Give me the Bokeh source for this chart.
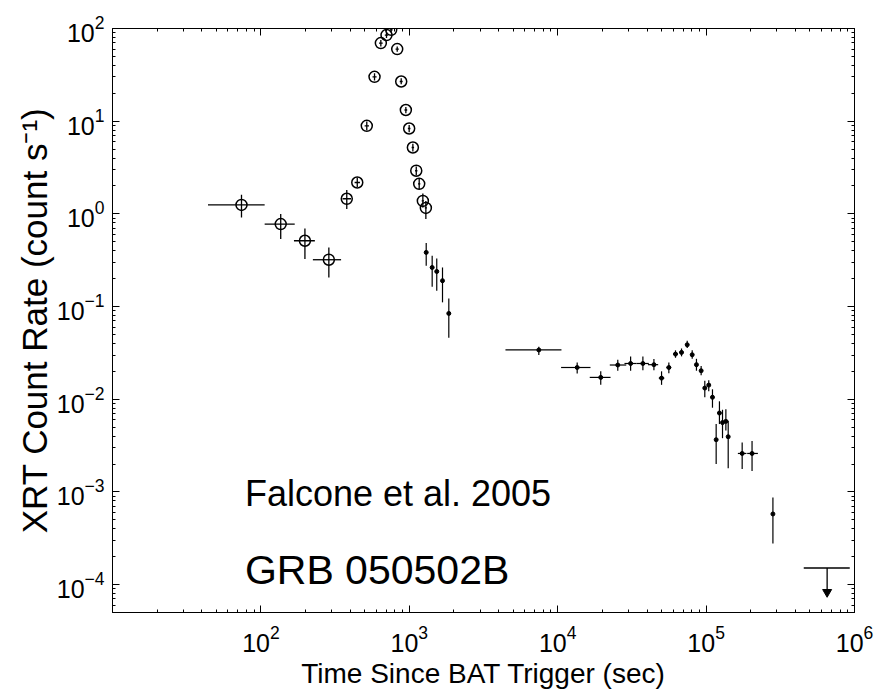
import numpy as np
from bokeh.plotting import figure
from bokeh.models import LogAxis, FixedTicker, Label, ColumnDataSource, CustomJSTickFormatter
from bokeh.embed import file_html
from bokeh.resources import INLINE

# ---------------- data ----------------
# Early data shown as open circles
circ_t = [74, 136, 198, 287, 379, 446, 517, 583, 643, 702, 755, 829, 882, 948,
          998, 1057, 1114, 1166, 1234, 1293]
circ_rate = [1.25, 0.776, 0.513, 0.32, 1.455, 2.18, 8.9, 30.1, 69.6, 84.9, 96.8,
             60.0, 26.8, 13.2, 8.34, 5.2, 2.92, 2.11, 1.38, 1.16]
circ_t_lo = [44, 106, 167, 224, 355, 428, 500, 565, 625, 684, 738, 808, 862, 928,
             978, 1037, 1094, 1145, 1212, 1272]
circ_t_hi = [106, 169, 231, 347, 405, 465, 535, 602, 662, 720, 773, 850, 902, 968,
             1018, 1077, 1134, 1187, 1256, 1314]
circ_rate_lo = [0.914, 0.535, 0.325, 0.206, 1.13, 1.95, 8.0, 27.5, 64.0, 79.0, 91.0,
                56.0, 25.0, 12.2, 7.6, 4.7, 2.6, 1.85, 1.17, 0.88]
circ_rate_hi = [1.61, 0.995, 0.697, 0.434, 1.81, 2.45, 9.9, 33.0, 75.0, 91.0, 103.0,
                64.0, 29.0, 14.2, 9.1, 5.7, 3.25, 2.4, 1.66, 1.38]

# Later data shown as small dots
dot_t = [1300, 1426, 1531, 1674, 1846, 7460, 13530, 19500, 25400, 31000, 37500,
         44500, 50100, 56100, 62200, 68300, 74600, 80600, 86100, 92600, 98000,
         104200, 110400, 116900, 123000, 129000, 135900, 140900, 175000, 204000,
         282000]
dot_rate = [0.384, 0.264, 0.239, 0.19, 0.0843, 0.034, 0.0220, 0.0172, 0.0234,
            0.0243, 0.0243, 0.0236, 0.0169, 0.0220, 0.0307, 0.032, 0.0387, 0.0302,
            0.0236, 0.0203, 0.0132, 0.0142, 0.0105, 0.00366, 0.0071, 0.0056,
            0.00577, 0.00394, 0.0026, 0.0026, 0.000578]
dot_t_lo = [1280, 1400, 1505, 1640, 1800, 4446, 10540, 16440, 22440, 28180, 33960,
            40550, 48000, 54000, 60000, 66000, 72500, 78500, 84000, 90500, 96000,
            102000, 108000, 114500, 120500, 126500, 133000, 138000, 163700, 189200,
            278000]
dot_t_hi = [1320, 1450, 1560, 1710, 1890, 10600, 16630, 22700, 28970, 33960, 41110,
            47530, 52300, 58200, 64500, 70500, 76800, 82700, 88200, 94800, 100000,
            106500, 113000, 119500, 125500, 131500, 138800, 143800, 187000, 223400,
            286000]
dot_rate_lo = [0.275, 0.164, 0.148, 0.111, 0.046, 0.030, 0.019, 0.0143, 0.0203,
               0.0203, 0.0205, 0.0205, 0.0143, 0.0191, 0.0280, 0.0290, 0.0356,
               0.0273, 0.0203, 0.0181, 0.0105, 0.0122, 0.0081, 0.0020, 0.0054,
               0.0038, 0.0046, 0.0018, 0.00177, 0.00168, 0.000278]
dot_rate_hi = [0.484, 0.353, 0.330, 0.264, 0.122, 0.0368, 0.0249, 0.020, 0.0267,
               0.029, 0.029, 0.0272, 0.020, 0.0249, 0.0337, 0.0353, 0.0428, 0.0337,
               0.0273, 0.0228, 0.0158, 0.016, 0.0128, 0.0054, 0.0095, 0.0077,
               0.0078, 0.00586, 0.00342, 0.00355, 0.000873]

# Upper limit
ul_t = [654000]
ul_t_lo = [455000]
ul_t_hi = [929000]
ul_rate = [0.000151]
ul_arrow_end = [8.3e-5]

x_major = [10.0 ** k for k in range(2, 7)]
x_minor = [m * 10.0 ** k for k in range(1, 6) for m in range(2, 10)]
y_major = [10.0 ** k for k in range(-4, 3)]
y_minor = [m * 10.0 ** k for k in range(-5, 2) for m in range(2, 10) if m * 10.0 ** k >= 5e-5]

# ---------------- figure ----------------
FONT = "Liberation Sans"

p = figure(width=878, height=694, x_axis_type="log", y_axis_type="log",
           x_range=(10, 1e6), y_range=(5e-5, 100),
           output_backend="svg", toolbar_location=None,
           min_border_left=112, min_border_right=24,
           min_border_top=28, min_border_bottom=82)
p.background_fill_color = "white"
p.border_fill_color = "white"
p.outline_line_color = "black"
p.outline_line_width = 1
p.xgrid.visible = False
p.ygrid.visible = False

xt = FixedTicker(ticks=x_major, minor_ticks=x_minor)
yt = FixedTicker(ticks=y_major, minor_ticks=y_minor)


def style_axis(ax):
    ax.axis_line_color = "black"
    ax.major_tick_in = 7
    ax.major_tick_out = 0
    ax.minor_tick_in = 3
    ax.minor_tick_out = 0
    ax.major_tick_line_color = "black"
    ax.minor_tick_line_color = "black"
    ax.major_label_text_font = FONT
    ax.major_label_text_font_size = "25px"
    ax.major_label_text_color = "black"
    ax.axis_label_text_font = FONT
    ax.axis_label_text_font_size = "28px"
    ax.axis_label_text_font_style = "normal"
    ax.axis_label_text_color = "black"


xa = p.xaxis[0]
xa.ticker = xt
style_axis(xa)
xa.axis_label = "Time Since BAT Trigger (sec)"
xa.major_label_standoff = 12
xa.axis_label_standoff = 3

ya = p.yaxis[0]
ya.ticker = yt
style_axis(ya)
ya.axis_label = "XRT Count Rate (count s\u207b\u00b9)"
ya.axis_label_text_font_size = "35px"
ya.major_label_standoff = 8
ya.axis_label_standoff = 0

blank = "return ''"

top = LogAxis(ticker=FixedTicker(ticks=x_major, minor_ticks=x_minor),
              formatter=CustomJSTickFormatter(code=blank))
style_axis(top)
top.major_label_standoff = 0
p.add_layout(top, "above")

right = LogAxis(ticker=FixedTicker(ticks=y_major, minor_ticks=y_minor),
                formatter=CustomJSTickFormatter(code=blank))
style_axis(right)
right.major_label_standoff = 0
p.add_layout(right, "right")

# ---------------- data glyphs ----------------
csrc = ColumnDataSource(dict(t=circ_t, r=circ_rate, tlo=circ_t_lo, thi=circ_t_hi,
                             rlo=circ_rate_lo, rhi=circ_rate_hi))
p.segment(x0="tlo", x1="thi", y0="r", y1="r", source=csrc, line_color="black", line_width=1.3)
p.segment(x0="t", x1="t", y0="rlo", y1="rhi", source=csrc, line_color="black", line_width=1.3)
p.scatter(x="t", y="r", source=csrc, marker="circle", size=11, fill_color=None,
          line_color="black", line_width=1.5)

dsrc = ColumnDataSource(dict(t=dot_t, r=dot_rate, tlo=dot_t_lo, thi=dot_t_hi,
                             rlo=dot_rate_lo, rhi=dot_rate_hi))
p.segment(x0="tlo", x1="thi", y0="r", y1="r", source=dsrc, line_color="black", line_width=1.2)
p.segment(x0="t", x1="t", y0="rlo", y1="rhi", source=dsrc, line_color="black", line_width=1.2)
p.scatter(x="t", y="r", source=dsrc, marker="circle", size=4, fill_color="black",
          line_color="black")

usrc = ColumnDataSource(dict(t=ul_t, tlo=ul_t_lo, thi=ul_t_hi, r=ul_rate, re=ul_arrow_end))
p.segment(x0="tlo", x1="thi", y0="r", y1="r", source=usrc, line_color="black", line_width=1.3)
p.segment(x0="t", x1="t", y0="r", y1="re", source=usrc, line_color="black", line_width=1.3)
p.scatter(x="t", y="re", source=usrc, marker="inverted_triangle", size=9,
          fill_color="black", line_color="black")

# ---------------- annotations ----------------
p.add_layout(Label(x=78, y=9.6e-4, text="Falcone et al. 2005", text_font=FONT,
                   text_font_size="36px", text_color="black", text_baseline="alphabetic",
                   text_align="left"))
p.add_layout(Label(x=78, y=1.44e-4, text="GRB 050502B", text_font=FONT,
                   text_font_size="41px", text_color="black", text_baseline="alphabetic",
                   text_align="left"))

open("out.html", "w").write(file_html(p, INLINE))
